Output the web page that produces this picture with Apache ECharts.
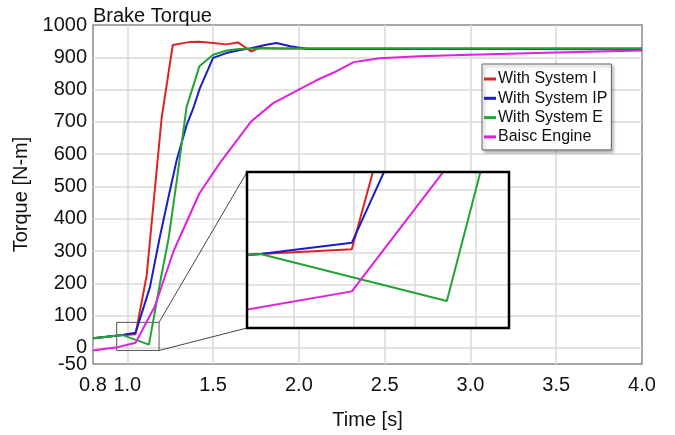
<!DOCTYPE html>
<html><head><meta charset="utf-8">
<script src="https://cdn.jsdelivr.net/npm/echarts@6/dist/echarts.min.js"></script>
<style>html,body{margin:0;padding:0;background:#fff}#c{width:675px;height:435px}</style>
</head><body><div id="c"></div>
<script>
// ---- data ----
const seriesNames = ['With System I', 'With System IP', 'With System E', 'Baisc Engine'];
const seriesColors = ['#dd2424', '#1c1cc8', '#22a335', '#e020e0'];

const timeRed   = [0.8, 0.973, 1.048, 1.113, 1.2, 1.265, 1.36, 1.42, 1.5, 1.577, 1.645, 1.722, 1.77, 1.9, 2.5, 3.0, 4.0];
const torqueRed = [30, 39.5, 42.5, 225, 712, 938, 947, 948, 944, 940, 946, 918, 929, 927, 927, 927, 927];

const timeBlue   = [0.8, 0.973, 1.048, 1.132, 1.187, 1.239, 1.288, 1.346, 1.383, 1.422, 1.5, 1.577, 1.65, 1.72, 1.81, 1.87, 1.95, 2.05, 2.5, 3.0, 4.0];
const torqueBlue = [30, 39.5, 46.5, 188, 337, 465, 582, 690, 740, 803, 898, 913, 922, 928, 939, 944, 934, 926, 926, 926, 925];

const timeGreen   = [0.8, 0.973, 1.126, 1.16, 1.2, 1.24, 1.29, 1.345, 1.42, 1.5, 1.58, 1.65, 1.8, 2.5, 3.0, 4.0];
const torqueGreen = [30, 39.5, 10, 110, 228, 337, 525, 745, 872, 908, 921, 926, 927, 927, 927, 927];

const timeMag   = [0.8, 0.95, 1.048, 1.16, 1.27, 1.42, 1.54, 1.72, 1.85, 2.0, 2.1, 2.2, 2.32, 2.47, 2.7, 3.0, 3.5, 4.0];
const torqueMag = [-8, 3, 16, 128, 300, 478, 573, 700, 758, 800, 828, 852, 885, 897, 903, 908, 915, 921];

// axes ranges / steps
const mainX = [0.8, 4.0], mainXStep = 0.5;
const mainY = [-50, 1000], mainYStep = 100;
const insetX = [0.962, 1.177], insetXStep = 0.05;
const insetY = [-7, 91], insetYStep = 20;
const zoomBoxX = [0.938, 1.185], zoomBoxY = [-8, 79];

// ---- chart ----
const F = "'Liberation Sans', Arial, Helvetica, sans-serif";
const pairs = (t, v) => t.map((x, i) => [x, v[i]]);
const allData = [pairs(timeRed, torqueRed), pairs(timeBlue, torqueBlue), pairs(timeGreen, torqueGreen), pairs(timeMag, torqueMag)];

const chart = echarts.init(document.getElementById('c'), null, {renderer: 'canvas'});

const series = [];
allData.forEach((d, i) => {
  const s = {
    name: seriesNames[i], type: 'line', data: d, xAxisIndex: 0, yAxisIndex: 0,
    symbol: 'none', showSymbol: false, silent: true, z: 2,
    lineStyle: {width: 2, color: seriesColors[i]}, itemStyle: {color: seriesColors[i]}
  };
  if (i === 3) {
    s.markArea = {
      silent: true,
      itemStyle: {color: 'rgba(0,0,0,0)', borderColor: '#555', borderWidth: 1},
      data: [[{coord: [zoomBoxX[0], zoomBoxY[0]]}, {coord: [zoomBoxX[1], zoomBoxY[1]]}]]
    };
  }
  series.push(s);
});
allData.forEach((d, i) => {
  series.push({
    name: seriesNames[i], type: 'line', data: d, xAxisIndex: 1, yAxisIndex: 1,
    symbol: 'none', showSymbol: false, silent: true, z: 12, clip: true,
    lineStyle: {width: 2, color: seriesColors[i]}, itemStyle: {color: seriesColors[i]}
  });
});

const gridLine = {color: '#dadada', width: 1.5};
const labelStyle = {fontSize: 20, color: '#111', fontFamily: F};

chart.setOption({
  animation: false,
  title: {text: 'Brake Torque', left: 88, top: 1, textStyle: {fontSize: 20, fontWeight: 'normal', color: '#111', fontFamily: F}},
  legend: {
    orient: 'vertical', left: 482, top: 64, data: seriesNames, selectedMode: false,
    icon: 'rect', itemWidth: 12, itemHeight: 3, itemGap: 3.3, padding: [7, 4, 5, 2],
    backgroundColor: '#fff', borderColor: '#666', borderWidth: 1,
    shadowColor: 'rgba(0,0,0,0.35)', shadowBlur: 3, shadowOffsetX: 2, shadowOffsetY: 2,
    textStyle: {fontSize: 16, fontFamily: F, color: '#111', padding: [0, 0, 0, -3], height: 16, lineHeight: 16}
  },
  grid: [
    {left: 93, top: 25, right: 33, bottom: 70, show: true, borderColor: '#8a8a8a', borderWidth: 1.5, backgroundColor: 'rgba(0,0,0,0)'},
    {left: 247, top: 172, width: 262, height: 156, show: true, borderWidth: 0, backgroundColor: '#fff', z: 10}
  ],
  xAxis: [
    {gridIndex: 0, type: 'value', min: mainX[0], max: mainX[1], minInterval: mainXStep, maxInterval: mainXStep,
     axisLine: {show: false}, axisTick: {show: false},
     axisLabel: Object.assign({margin: 11, showMinLabel: true, showMaxLabel: true, formatter: v => v.toFixed(1)}, labelStyle),
     splitLine: {show: true, showMinLine: false, showMaxLine: false, lineStyle: gridLine},
     name: 'Time [s]', nameLocation: 'middle', nameGap: 46, nameTextStyle: labelStyle},
    {gridIndex: 1, type: 'value', min: insetX[0], max: insetX[1], minInterval: insetXStep, maxInterval: insetXStep, z: 11,
     axisLine: {show: false}, axisTick: {show: false}, axisLabel: {show: false},
     splitLine: {show: true, showMinLine: false, showMaxLine: false, lineStyle: gridLine}}
  ],
  yAxis: [
    {gridIndex: 0, type: 'value', position: 'left', min: mainY[0], max: mainY[1], minInterval: mainYStep, maxInterval: mainYStep,
     axisLine: {show: false}, axisTick: {show: false},
     axisLabel: Object.assign({margin: 6, showMinLabel: false, showMaxLabel: true, formatter: v => String(v)}, labelStyle),
     splitLine: {show: true, showMinLine: false, showMaxLine: false, lineStyle: gridLine},
     name: 'Torque [N-m]', nameLocation: 'middle', nameGap: 44, nameTextStyle: labelStyle},
    {gridIndex: 1, type: 'value', min: insetY[0], max: insetY[1], minInterval: insetYStep, maxInterval: insetYStep, z: 11,
     axisLine: {show: false}, axisTick: {show: false}, axisLabel: {show: false},
     splitLine: {show: true, showMinLine: false, showMaxLine: false, lineStyle: gridLine}},
    // second left axis on the main grid: carries only the minimum (-50) label
    {gridIndex: 0, type: 'value', position: 'left', min: mainY[0], max: mainY[1], minInterval: mainYStep, maxInterval: mainYStep,
     axisLine: {show: false}, axisTick: {show: false}, splitLine: {show: false},
     axisLabel: Object.assign({margin: 6, showMinLabel: true, showMaxLabel: false, formatter: v => (v === mainY[0] ? String(v) : '')}, labelStyle)}
  ],
  series: series
});

// connector lines between zoom box and inset, plus inset frame
const p1 = chart.convertToPixel({gridIndex: 0}, [zoomBoxX[1], zoomBoxY[1]]);
const p2 = chart.convertToPixel({gridIndex: 0}, [zoomBoxX[1], zoomBoxY[0]]);
const q1 = chart.convertToPixel({gridIndex: 1}, [insetX[0], insetY[1]]);
const q2 = chart.convertToPixel({gridIndex: 1}, [insetX[0], insetY[0]]);
const q3 = chart.convertToPixel({gridIndex: 1}, [insetX[1], insetY[0]]);
chart.setOption({
  graphic: [
    {type: 'line', silent: true, z: 9, shape: {x1: p1[0], y1: p1[1], x2: q1[0], y2: q1[1]}, style: {stroke: '#444', lineWidth: 1}},
    {type: 'line', silent: true, z: 9, shape: {x1: p2[0], y1: p2[1], x2: q2[0], y2: q2[1]}, style: {stroke: '#444', lineWidth: 1}},
    {type: 'rect', silent: true, z: 20, shape: {x: q1[0], y: q1[1], width: q3[0] - q1[0], height: q3[1] - q1[1]},
     style: {fill: 'none', stroke: '#000', lineWidth: 2.5}}
  ]
});
</script>
</body></html>
